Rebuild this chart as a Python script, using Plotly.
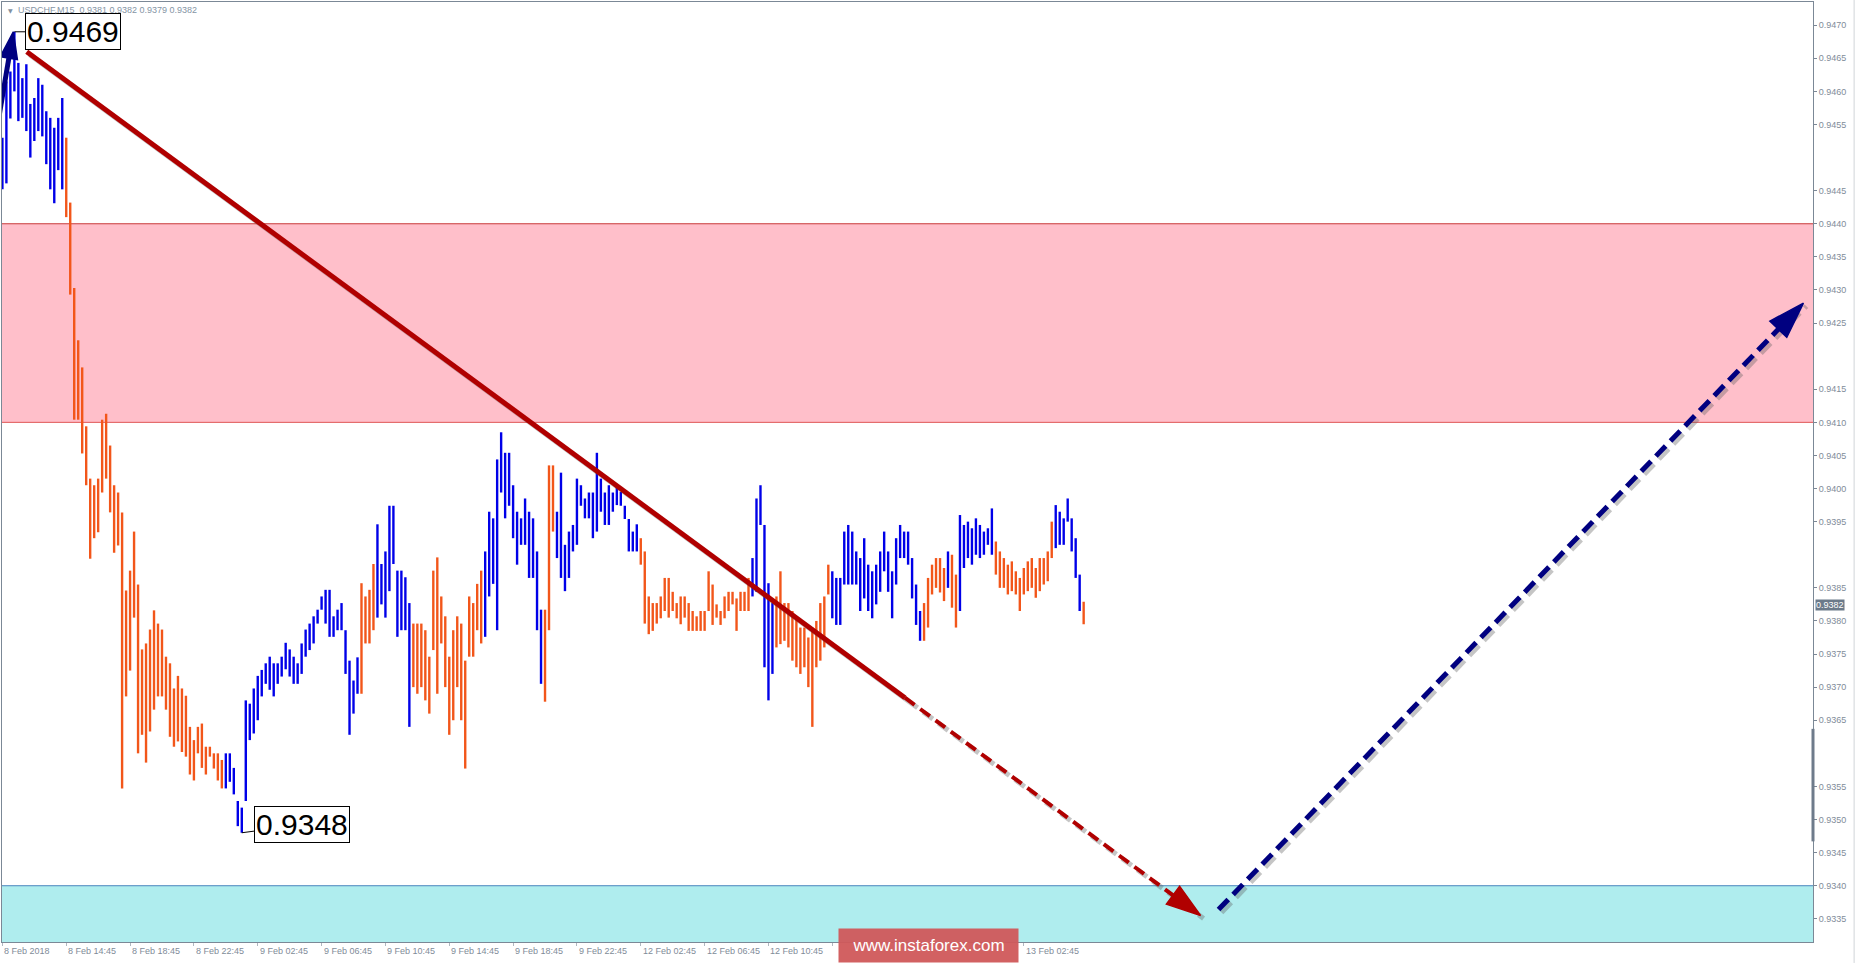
import plotly.graph_objects as go

# ---------------- data (USDCHF M15 bars) ----------------
HIGH = [
    0.94530, 0.94615, 0.94630, 0.94690, 0.94643, 0.94620, 0.94641, 0.94581, 0.94590, 0.94620,
    0.94610, 0.94570, 0.94560, 0.94545, 0.94560, 0.94590, 0.94530, 0.94432, 0.94303, 0.94224,
    0.94183, 0.94094, 0.94015, 0.94005, 0.94015, 0.94104, 0.94113, 0.94065, 0.94005, 0.93994,
    0.93964, 0.93846, 0.93876, 0.93935, 0.93855, 0.93757, 0.93766, 0.93787, 0.93816, 0.93796,
    0.93787, 0.93746, 0.93736, 0.93698, 0.93717, 0.93698, 0.93687, 0.93640, 0.93620, 0.93640,
    0.93645, 0.93610, 0.93610, 0.93600, 0.93600, 0.93590, 0.93600, 0.93600, 0.93578, 0.93528,
    0.93518, 0.93680, 0.93675, 0.93698, 0.93717, 0.93726, 0.93736, 0.93746, 0.93736, 0.93736,
    0.93746, 0.93767, 0.93757, 0.93746, 0.93736, 0.93766, 0.93787, 0.93796, 0.93807, 0.93817,
    0.93837, 0.93847, 0.93847, 0.93807, 0.93817, 0.93827, 0.93786, 0.93740, 0.93710, 0.93745,
    0.93857, 0.93837, 0.93847, 0.93886, 0.93946, 0.93886, 0.93905, 0.93974, 0.93974, 0.93876,
    0.93876, 0.93866, 0.93827, 0.93796, 0.93796, 0.93796, 0.93786, 0.93746, 0.93876, 0.93896,
    0.93837, 0.93807, 0.93746, 0.93786, 0.93807, 0.93796, 0.93740, 0.93837, 0.93827, 0.93856,
    0.93876, 0.93905, 0.93965, 0.93955, 0.94044, 0.94085, 0.94054, 0.94054, 0.94005, 0.93965,
    0.93955, 0.93985, 0.93965, 0.93955, 0.93905, 0.93817, 0.93817, 0.94035, 0.94035, 0.93965,
    0.94024, 0.93915, 0.93935, 0.93945, 0.94015, 0.94005, 0.93985, 0.93994, 0.93994, 0.94054,
    0.94015, 0.93994, 0.94005, 0.93994, 0.94005, 0.93995, 0.93974, 0.93954, 0.93935, 0.93946,
    0.93925, 0.93905, 0.93837, 0.93827, 0.93827, 0.93837, 0.93865, 0.93865, 0.93844, 0.93827,
    0.93837, 0.93837, 0.93827, 0.93815, 0.93807, 0.93815, 0.93815, 0.93875, 0.93855, 0.93825,
    0.93815, 0.93837, 0.93844, 0.93844, 0.93834, 0.93844, 0.93844, 0.93865, 0.93895, 0.93985,
    0.94005, 0.93945, 0.93857, 0.93827, 0.93837, 0.93875, 0.93827, 0.93827, 0.93815, 0.93805,
    0.93790, 0.93790, 0.93775, 0.93790, 0.93800, 0.93827, 0.93837, 0.93885, 0.93875, 0.93865,
    0.93865, 0.93935, 0.93945, 0.93935, 0.93905, 0.93895, 0.93925, 0.93885, 0.93875, 0.93885,
    0.93905, 0.93935, 0.93905, 0.93875, 0.93925, 0.93945, 0.93935, 0.93935, 0.93895, 0.93855,
    0.93815, 0.93827, 0.93865, 0.93885, 0.93895, 0.93895, 0.93880, 0.93905, 0.93900, 0.93870,
    0.93960, 0.93945, 0.93950, 0.93940, 0.93955, 0.93945, 0.93935, 0.93940, 0.93970, 0.93920,
    0.93905, 0.93895, 0.93885, 0.93890, 0.93875, 0.93865, 0.93880, 0.93890, 0.93895, 0.93880,
    0.93895, 0.93895, 0.93905, 0.93950, 0.93975, 0.93965, 0.93955, 0.93985, 0.93955, 0.93925,
    0.93870, 0.93829,
]
LOW = [
    0.94452, 0.94461, 0.94559, 0.94600, 0.94555, 0.94560, 0.94540, 0.94500, 0.94525, 0.94540,
    0.94532, 0.94490, 0.94452, 0.94431, 0.94481, 0.94452, 0.94410, 0.94293, 0.94104, 0.94104,
    0.94053, 0.94005, 0.93894, 0.93925, 0.93934, 0.93994, 0.94015, 0.93964, 0.93903, 0.93914,
    0.93547, 0.93686, 0.93725, 0.93805, 0.93600, 0.93628, 0.93586, 0.93633, 0.93666, 0.93686,
    0.93686, 0.93666, 0.93625, 0.93610, 0.93618, 0.93602, 0.93595, 0.93568, 0.93559, 0.93600,
    0.93578, 0.93568, 0.93595, 0.93577, 0.93559, 0.93547, 0.93547, 0.93557, 0.93538, 0.93490,
    0.93480, 0.93528, 0.93620, 0.93630, 0.93650, 0.93686, 0.93705, 0.93696, 0.93686, 0.93705,
    0.93716, 0.93727, 0.93716, 0.93705, 0.93705, 0.93720, 0.93746, 0.93756, 0.93766, 0.93796,
    0.93817, 0.93796, 0.93776, 0.93776, 0.93786, 0.93786, 0.93720, 0.93628, 0.93660, 0.93690,
    0.93690, 0.93766, 0.93766, 0.93786, 0.93805, 0.93825, 0.93805, 0.93845, 0.93886, 0.93776,
    0.93786, 0.93786, 0.93640, 0.93700, 0.93690, 0.93700, 0.93680, 0.93660, 0.93756, 0.93690,
    0.93766, 0.93700, 0.93628, 0.93650, 0.93700, 0.93650, 0.93577, 0.93746, 0.93746, 0.93786,
    0.93766, 0.93776, 0.93837, 0.93856, 0.93786, 0.93994, 0.93955, 0.93974, 0.93925, 0.93885,
    0.93915, 0.93915, 0.93865, 0.93865, 0.93786, 0.93705, 0.93678, 0.93786, 0.93935, 0.93895,
    0.93865, 0.93845, 0.93865, 0.93905, 0.93915, 0.93974, 0.93955, 0.93955, 0.93925, 0.93935,
    0.93965, 0.93945, 0.93945, 0.93965, 0.93975, 0.93974, 0.93954, 0.93905, 0.93905, 0.93905,
    0.93885, 0.93796, 0.93780, 0.93785, 0.93796, 0.93804, 0.93815, 0.93805, 0.93815, 0.93804,
    0.93795, 0.93805, 0.93785, 0.93785, 0.93785, 0.93785, 0.93785, 0.93815, 0.93794, 0.93805,
    0.93794, 0.93804, 0.93815, 0.93825, 0.93785, 0.93815, 0.93815, 0.93815, 0.93837, 0.93844,
    0.93945, 0.93730, 0.93680, 0.93720, 0.93760, 0.93765, 0.93770, 0.93760, 0.93740, 0.93730,
    0.93720, 0.93730, 0.93700, 0.93640, 0.93730, 0.93740, 0.93760, 0.93840, 0.93804, 0.93794,
    0.93794, 0.93855, 0.93855, 0.93855, 0.93855, 0.93815, 0.93834, 0.93815, 0.93804, 0.93825,
    0.93844, 0.93875, 0.93844, 0.93804, 0.93855, 0.93895, 0.93895, 0.93885, 0.93834, 0.93794,
    0.93770, 0.93770, 0.93790, 0.93840, 0.93850, 0.93843, 0.93830, 0.93850, 0.93820, 0.93790,
    0.93815, 0.93880, 0.93895, 0.93885, 0.93900, 0.93895, 0.93900, 0.93915, 0.93900, 0.93870,
    0.93850, 0.93850, 0.93840, 0.93845, 0.93840, 0.93815, 0.93840, 0.93845, 0.93850, 0.93835,
    0.93845, 0.93855, 0.93860, 0.93895, 0.93910, 0.93915, 0.93915, 0.93950, 0.93905, 0.93865,
    0.93815, 0.93795,
]
# bar colour runs: b = rising wave (blue), o = falling wave (orange)
COLOR_RUNS = [("b", 16), ("o", 40), ("b", 34), ("o", 4), ("b", 9), ("o", 18), ("b", 15),
              ("o", 3), ("b", 21), ("o", 28), ("b", 6), ("o", 14), ("b", 23), ("o", 6),
              ("b", 1), ("o", 2), ("b", 9), ("o", 15), ("b", 7), ("o", 1)]

# time labels (the three hidden behind the watermark in the reference are left empty)
X_TICK_POS = [0, 16, 32, 48, 64, 80, 96, 112, 128, 144, 160, 176, 192, 208, 224, 240, 256]
X_TICK_TEXT = ["8 Feb 2018", "8 Feb 14:45", "8 Feb 18:45", "8 Feb 22:45", "9 Feb 02:45",
               "9 Feb 06:45", "9 Feb 10:45", "9 Feb 14:45", "9 Feb 18:45", "9 Feb 22:45",
               "12 Feb 02:45", "12 Feb 06:45", "12 Feb 10:45", "", "", "", "13 Feb 02:45"]
Y_TICKS = [0.9470, 0.9465, 0.9460, 0.9455, 0.9445, 0.9440, 0.9435, 0.9430, 0.9425, 0.9415,
           0.9410, 0.9405, 0.9400, 0.9395, 0.9385, 0.9380, 0.9375, 0.9370, 0.9365, 0.9355,
           0.9350, 0.9345, 0.9340, 0.9335]

RESIST_ZONE = (0.9410, 0.9440)
SUPPORT_TOP = 0.9340
LAST_PRICE = 0.9382
HIGH_MARK = (3, 0.94690, "0.9469")
LOW_MARK = (60, 0.93480, "0.9348")
WAVE_PREV = [(-3.0, 0.94485), (2.73, 0.94690)]
WAVE_DOWN = [(6.1, 0.94660), (226.2, 0.93684), (300.3, 0.93355)]
WAVE_UP = [(304.8, 0.93364), (451.4, 0.94280)]
HEADER = "USDCHF,M15  0.9381 0.9382 0.9379 0.9382"

X_RANGE = [-0.1, 453.8]
Y_RANGE = [0.93315, 0.94735]

# ---------------- styling ----------------
BLUE = "#0000E8"
ORANGE = "#F2561A"
RED_ARROW = "#B00000"
NAVY = "#000080"
FRAME = "#7B8896"
TXT = "#7F8C99"
FONT = "Liberation Sans"

colors = []
for c, n in COLOR_RUNS:
    colors += [BLUE if c == "b" else ORANGE] * n
n = min(len(HIGH), len(LOW), len(colors))
xs = list(range(n))

fig = go.Figure()

# zones
fig.add_shape(type="rect", xref="x", yref="y", x0=X_RANGE[0], x1=X_RANGE[1],
              y0=RESIST_ZONE[0], y1=RESIST_ZONE[1], fillcolor="#FFBFCA",
              line=dict(width=0), layer="below")
fig.add_shape(type="line", xref="x", yref="y", x0=X_RANGE[0], x1=X_RANGE[1],
              y0=RESIST_ZONE[1], y1=RESIST_ZONE[1], line=dict(color="#C83A3A", width=1),
              layer="below")
fig.add_shape(type="line", xref="x", yref="y", x0=X_RANGE[0], x1=X_RANGE[1],
              y0=RESIST_ZONE[0], y1=RESIST_ZONE[0], line=dict(color="#E05555", width=1),
              layer="below")
fig.add_shape(type="rect", xref="x", yref="y", x0=X_RANGE[0], x1=X_RANGE[1],
              y0=Y_RANGE[0], y1=SUPPORT_TOP, fillcolor="#AFEDEE",
              line=dict(width=0), layer="below")
fig.add_shape(type="line", xref="x", yref="y", x0=X_RANGE[0], x1=X_RANGE[1],
              y0=SUPPORT_TOP, y1=SUPPORT_TOP, line=dict(color="#4A86BE", width=1),
              layer="below")

# price bars
fig.add_trace(go.Bar(x=xs, base=LOW[:n], y=[HIGH[i] - LOW[i] for i in range(n)],
                     width=0.6, marker=dict(color=colors[:n], line=dict(width=0)),
                     hoverinfo="skip", showlegend=False))

# shadows of the wave arrows
DX, DY = 0.75, -0.000045
def shadow(pts, dash):
    fig.add_trace(go.Scatter(x=[p[0] + DX for p in pts], y=[p[1] + DY for p in pts],
                             mode="lines", line=dict(color="rgba(90,90,90,0.35)", width=5,
                                                     dash=dash),
                             hoverinfo="skip", showlegend=False))
shadow(WAVE_DOWN[:2], "solid")
shadow(WAVE_DOWN[1:], "12px,7px")
shadow(WAVE_UP, "14px,7px")

def head(color, size):
    return dict(symbol="arrow", angleref="previous", size=[0, size], color=color,
                opacity=1, line=dict(color=color, width=1.5))

# previous wave (blue, solid)
fig.add_trace(go.Scatter(x=[p[0] for p in WAVE_PREV], y=[p[1] for p in WAVE_PREV],
                         mode="lines+markers", line=dict(color=NAVY, width=5),
                         marker=head(NAVY, 28), hoverinfo="skip", showlegend=False))
# current wave down (red, solid then dashed)
fig.add_trace(go.Scatter(x=[p[0] for p in WAVE_DOWN[:2]], y=[p[1] for p in WAVE_DOWN[:2]],
                         mode="lines", line=dict(color=RED_ARROW, width=5),
                         hoverinfo="skip", showlegend=False))
fig.add_trace(go.Scatter(x=[p[0] for p in WAVE_DOWN[1:]], y=[p[1] for p in WAVE_DOWN[1:]],
                         mode="lines+markers", line=dict(color=RED_ARROW, width=4, dash="12px,7px"),
                         marker=head(RED_ARROW, 36), hoverinfo="skip", showlegend=False))
# expected wave up (navy, dashed)
fig.add_trace(go.Scatter(x=[p[0] for p in WAVE_UP], y=[p[1] for p in WAVE_UP],
                         mode="lines+markers", line=dict(color=NAVY, width=5, dash="14px,7px"),
                         marker=head(NAVY, 38), hoverinfo="skip", showlegend=False))

# extreme labels
for (xi, yv, txt), ax, ay in [(HIGH_MARK, 59, 0), (LOW_MARK, 60, -8)]:
    fig.add_annotation(x=xi, y=yv, xref="x", yref="y", text=txt, showarrow=True,
                       arrowhead=0, arrowwidth=1, arrowcolor="black", ax=ax, ay=ay,
                       font=dict(family=FONT, size=30, color="black"),
                       bgcolor="white", bordercolor="black", borderwidth=1, borderpad=1)

# x tick labels (left aligned like MT4)
for pos, txt in zip(X_TICK_POS, X_TICK_TEXT):
    if not txt:
        continue
    fig.add_annotation(x=pos, y=0, xref="x", yref="paper", text=txt, showarrow=False,
                       xanchor="left", yanchor="top", xshift=0, yshift=-2,
                       font=dict(family=FONT, size=9, color=TXT))

# header
fig.add_annotation(x=0, y=1, xref="paper", yref="paper", text="▼", showarrow=False,
                   xanchor="left", yanchor="top", xshift=4, yshift=-3,
                   font=dict(family="DejaVu Sans", size=6, color="#8090A0"))
fig.add_annotation(x=0, y=1, xref="paper", yref="paper", text=HEADER, showarrow=False,
                   xanchor="left", yanchor="top", xshift=14, yshift=-1,
                   font=dict(family=FONT, size=9, color="#8595A5"))

# last price box
fig.add_annotation(x=1, y=LAST_PRICE, xref="paper", yref="y", text=f"{LAST_PRICE:.4f}",
                   showarrow=False, xanchor="left", yanchor="middle", xshift=2, yshift=3,
                   font=dict(family=FONT, size=9, color="white"), bgcolor="#6B7A8A",
                   borderpad=0)
# scroll marker on the price scale
fig.add_shape(type="line", xref="paper", yref="y", x0=1.0, x1=1.0, y0=0.93467, y1=0.93637,
              line=dict(color="#6E7B8B", width=3))
# outer window border on the right
fig.add_shape(type="line", xref="paper", yref="paper", x0=1.0227, x1=1.0227, y0=-0.0223,
              y1=1.0021, line=dict(color="#D0D4D8", width=1))

# watermark
fig.add_annotation(x=0.5116, y=-0.0037, xref="paper", yref="paper",
                   text="www.instaforex.com", showarrow=False, xanchor="center",
                   yanchor="middle", width=177, height=31, bgcolor="rgba(208,88,90,0.95)",
                   font=dict(family=FONT, size=17, color="white"))

fig.update_layout(
    width=1855, height=963,
    margin=dict(l=2, r=42, t=2, b=21),
    paper_bgcolor="white", plot_bgcolor="white",
    barmode="overlay", showlegend=False,
    xaxis=dict(range=X_RANGE, showgrid=False, zeroline=False, showline=True, mirror=True,
               linecolor=FRAME, linewidth=1, tickmode="array", tickvals=X_TICK_POS,
               showticklabels=False, ticks="outside", ticklen=3, tickcolor="#B0B8C0"),
    yaxis=dict(range=Y_RANGE, side="right", showgrid=False, zeroline=False, showline=True,
               mirror=True, linecolor=FRAME, linewidth=1, tickmode="array",
               tickvals=Y_TICKS, ticktext=[f"{v:.4f}" for v in Y_TICKS],
               ticks="outside", ticklen=3, tickcolor=FRAME,
               tickfont=dict(family=FONT, size=9, color=TXT)),
)

fig.write_html("out.html", config={"displayModeBar": False},
               post_script="document.body.style.margin='0';document.body.style.overflow='hidden';")
